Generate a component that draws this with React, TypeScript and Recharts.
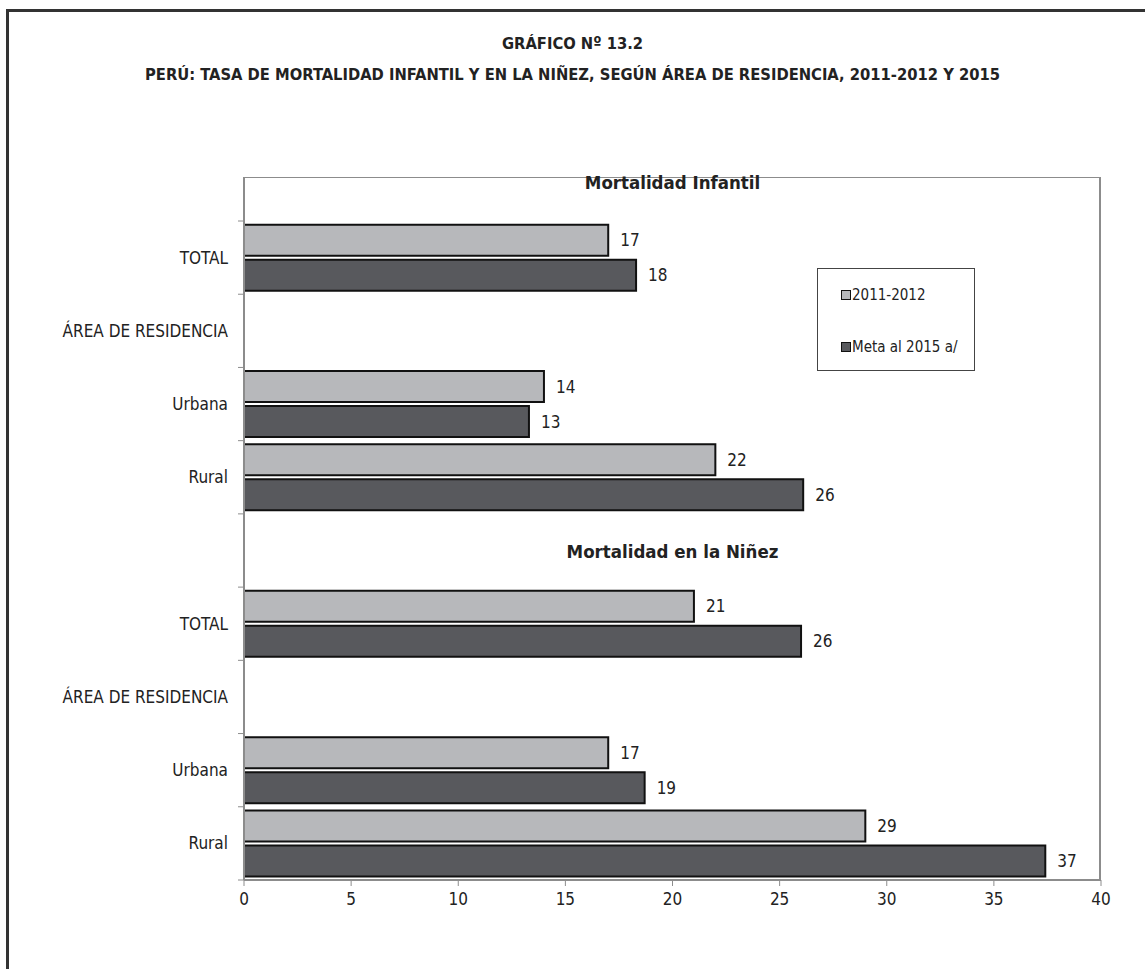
import React from "react";
import { BarChart, Bar, XAxis, YAxis, Legend, LabelList } from "recharts";

// ---- data ----
const categories = [
  "TOTAL",
  "ÁREA DE RESIDENCIA",
  "Urbana",
  "Rural",
  "",
  "TOTAL ",
  "ÁREA DE RESIDENCIA ",
  "Urbana ",
  "Rural ",
];
const serie2011 = [17, null, 14, 22, null, 21, null, 17, 29];
const serieMeta = [18.3, null, 13.3, 26.1, null, 26, null, 18.7, 37.4];
const seriesNames = ["2011-2012", "Meta al 2015 a/"];
const xTicks = [0, 5, 10, 15, 20, 25, 30, 35, 40];
const titleLine1 = "GRÁFICO Nº 13.2";
const titleLine2 =
  "PERÚ: TASA DE MORTALIDAD INFANTIL Y EN LA NIÑEZ, SEGÚN ÁREA DE RESIDENCIA, 2011-2012 Y 2015";
const headings = ["Mortalidad Infantil", "Mortalidad en la Niñez"];

const data = categories.map((c, i) => ({
  cat: c,
  a: serie2011[i],
  b: serieMeta[i],
}));

// ---- layout / style ----
const W = 1145;
const H = 969;
const M = { top: 177, right: 44, bottom: 59, left: 44 };
const YAXIS_W = 200;
const XAXIS_H = 30;
const PAD_TOP = 44;
const FONT = "'Liberation Sans Narrow','Arial Narrow','DejaVu Sans Condensed',sans-serif";
const LIGHT = "#b7b8bb";
const DARK = "#58595d";
const AXIS = "#8c8c8c";
const TEXT = "#222";

const PLOT_LEFT = M.left + YAXIS_W;
const PLOT_RIGHT = W - M.right;
const PLOT_TOP = M.top;
const PLOT_BOTTOM = H - M.bottom - XAXIS_H;
const BAND = (PLOT_BOTTOM - PLOT_TOP - PAD_TOP) / categories.length;

const YTick = (props: any) => {
  const { x, y, payload, index } = props;
  const axisX = x + 16;
  const half = BAND / 2;
  return (
    <g>
      <line x1={axisX - 6} x2={axisX} y1={y - half} y2={y - half} stroke={AXIS} strokeWidth={1} />
      {index === categories.length - 1 && (
        <line x1={axisX - 6} x2={axisX} y1={y + half} y2={y + half} stroke={AXIS} strokeWidth={1} />
      )}
      <text x={x} y={y} dy="0.355em" textAnchor="end" fill={TEXT} fontSize={17} fontFamily={FONT}>
        {String(payload.value).trim()}
      </text>
    </g>
  );
};

const LegendBox = (props: any) => {
  const { payload } = props;
  return (
    <div
      style={{
        width: 158,
        height: 103,
        border: "1px solid #444",
        background: "#fff",
        boxSizing: "border-box",
        paddingLeft: 23,
        paddingTop: 13,
        fontFamily: FONT,
        fontSize: 15,
        color: TEXT,
        whiteSpace: "nowrap",
      }}
    >
      {(payload || []).map((p: any, i: number) => (
        <div key={i} style={{ display: "flex", alignItems: "center", height: 26, marginBottom: i === 0 ? 26 : 0 }}>
          <span
            style={{
              display: "inline-block",
              width: 8,
              height: 8,
              background: p.color,
              border: "1.5px solid #111",
              marginRight: 1,
            }}
          />
          <span>{p.value}</span>
        </div>
      ))}
    </div>
  );
};

const fmt = (v: any) => (v === null || v === undefined ? "" : String(Math.round(Number(v))));

const headingStyle: React.CSSProperties = {
  position: "absolute",
  left: PLOT_LEFT,
  width: PLOT_RIGHT - PLOT_LEFT,
  textAlign: "center",
  fontFamily: FONT,
  fontWeight: "bold",
  fontSize: 18.5,
  color: TEXT,
  lineHeight: "22px",
};

const titleStyle: React.CSSProperties = {
  position: "absolute",
  left: 0,
  width: W,
  textAlign: "center",
  fontFamily: FONT,
  fontWeight: "bold",
  fontSize: 16.4,
  color: TEXT,
  lineHeight: "22px",
  whiteSpace: "nowrap",
};

export default function App() {
  return (
    <div style={{ position: "absolute", left: 0, top: 0, width: W, height: H, background: "#fff", overflow: "hidden" }}>
      {/* outer frame */}
      <div
        style={{
          position: "absolute",
          left: 6,
          top: 9,
          width: W,
          height: H,
          borderLeft: "3px solid #333",
          borderTop: "3px solid #333",
        }}
      />
      {/* titles */}
      <div style={{ ...titleStyle, top: 33 }}>{titleLine1}</div>
      <div style={{ ...titleStyle, top: 64 }}>{titleLine2}</div>
      <div style={{ position: "absolute", left: 0, top: 0 }}>
        <BarChart
          width={W}
          height={H}
          data={data}
          layout="vertical"
          margin={M}
          barCategoryGap="5%"
          barGap={4}
        >
          <XAxis
            type="number"
            domain={[0, 40]}
            ticks={xTicks}
            interval={0}
            height={XAXIS_H}
            axisLine={{ stroke: AXIS, strokeWidth: 2 }}
            tickLine={{ stroke: AXIS }}
            tickSize={6}
            tickMargin={7}
            tick={{ fill: TEXT, fontSize: 17, fontFamily: FONT }}
          />
          <YAxis
            type="category"
            dataKey="cat"
            width={YAXIS_W}
            interval={0}
            padding={{ top: PAD_TOP, bottom: 0 }}
            axisLine={{ stroke: AXIS, strokeWidth: 2 }}
            tickLine={false}
            tickSize={6}
            tickMargin={10}
            tick={<YTick />}
          />
          <Legend
            layout="vertical"
            align="center"
            verticalAlign="middle"
            content={<LegendBox />}
            wrapperStyle={{ left: 817, top: 268, width: 158, height: 103 }}
          />
          <Bar dataKey="a" name={seriesNames[0]} fill={LIGHT} stroke="#111" strokeWidth={2} isAnimationActive={false}>
            <LabelList dataKey="a" position="right" offset={12} formatter={fmt} fill={TEXT} fontSize={17} fontFamily={FONT} />
          </Bar>
          <Bar dataKey="b" name={seriesNames[1]} fill={DARK} stroke="#111" strokeWidth={2} isAnimationActive={false}>
            <LabelList dataKey="b" position="right" offset={12} formatter={fmt} fill={TEXT} fontSize={17} fontFamily={FONT} />
          </Bar>
        </BarChart>
      </div>
      {/* plot frame (top / right) */}
      <div
        style={{
          position: "absolute",
          left: PLOT_LEFT,
          top: PLOT_TOP,
          width: PLOT_RIGHT - PLOT_LEFT,
          height: PLOT_BOTTOM - PLOT_TOP,
          borderTop: `1.5px solid ${AXIS}`,
          borderRight: `2px solid ${AXIS}`,
          boxSizing: "border-box",
          pointerEvents: "none",
        }}
      />
      {/* section headings */}
      <div style={{ ...headingStyle, top: PLOT_TOP + PAD_TOP / 2 - 27 }}>{headings[0]}</div>
      <div style={{ ...headingStyle, top: PLOT_TOP + PAD_TOP + BAND * 4.5 - 10 }}>{headings[1]}</div>
    </div>
  );
}
